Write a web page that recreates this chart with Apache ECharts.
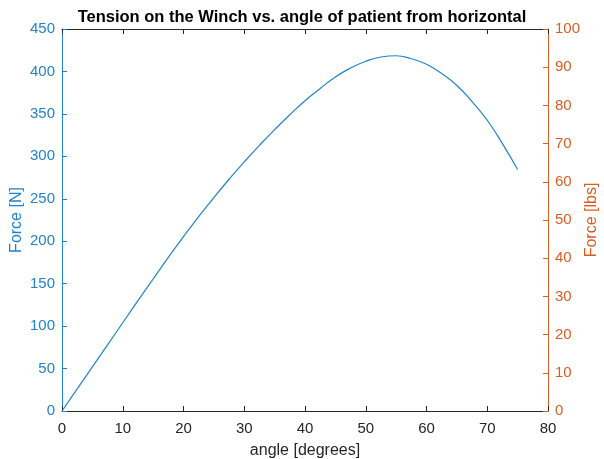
<!DOCTYPE html>
<html>
<head>
<meta charset="utf-8">
<script src="https://cdn.jsdelivr.net/npm/echarts@6/dist/echarts.min.js"></script>
<style>html,body{margin:0;padding:0;background:#fff}#c{width:604px;height:459px}</style>
</head>
<body>
<div id="c"></div>
<script>
var angles = [0, 2.5, 5, 7.5, 10, 12.5, 15, 17.5, 20, 22.5, 25, 27.5, 30, 32.5, 35, 37.5, 40, 42.5, 45, 47.5, 50, 52.5, 55, 57.5, 60, 62.5, 65, 67.5, 70, 72.5, 75];
var forceN = [0, 26, 52, 78, 104, 130, 155.5, 181, 205.5, 229, 251.5, 273, 293.5, 313, 331.5, 349, 365.5, 380, 393.5, 404, 412, 417, 418.5, 415, 408.5, 397.5, 383.5, 364.5, 342.5, 315, 284.5];
var xTicks = [0, 10, 20, 30, 40, 50, 60, 70, 80];
var title = 'Tension on the Winch vs. angle of patient from horizontal';

var blue = '#2283cc';
var orange = '#dc5d23';
var dark = '#262626';
var font = 'Liberation Sans, Arial, Helvetica, sans-serif';

var chart = echarts.init(document.getElementById('c'));
chart.setOption({
  animation: false,
  title: {
    text: title, left: 'center', top: 4,
    textStyle: { fontFamily: font, fontSize: 16.5, fontWeight: 'bold', color: '#000' }
  },
  grid: { left: 62, right: 56, top: 29, bottom: 48, containLabel: false, outerBoundsMode: 'none' },
  xAxis: [{
    type: 'value', min: 0, max: 80, interval: 10,
    name: 'angle [degrees]', nameLocation: 'middle', nameGap: 32, nameMoveOverlap: false,
    nameTextStyle: { fontFamily: font, fontSize: 16, color: dark },
    axisLine: { show: true, onZero: false, lineStyle: { color: dark, width: 1 } },
    axisTick: { show: true, inside: true, length: 5, lineStyle: { color: dark } },
    axisLabel: { fontFamily: font, fontSize: 15, color: dark, margin: 10 },
    splitLine: { show: false }
  }, {
    type: 'value', min: 0, max: 80, interval: 10, position: 'top',
    axisLine: { show: true, onZero: false, lineStyle: { color: dark, width: 1 } },
    axisTick: { show: true, inside: true, length: 5, lineStyle: { color: dark } },
    axisLabel: { show: false },
    splitLine: { show: false }
  }],
  yAxis: [{
    type: 'value', min: 0, max: 450, interval: 50, position: 'left',
    name: 'Force [N]', nameLocation: 'middle', nameGap: 37, nameMoveOverlap: false,
    nameTextStyle: { fontFamily: font, fontSize: 16, color: blue },
    axisLine: { show: true, onZero: false, lineStyle: { color: blue, width: 1 } },
    axisTick: { show: true, inside: true, length: 5, lineStyle: { color: blue } },
    axisLabel: { fontFamily: font, fontSize: 15, color: blue, margin: 7 },
    splitLine: { show: false }
  }, {
    type: 'value', min: 0, max: 100, interval: 10, position: 'right',
    name: 'Force [lbs]', nameLocation: 'middle', nameGap: 36, nameMoveOverlap: false,
    nameTextStyle: { fontFamily: font, fontSize: 16, color: orange },
    axisLine: { show: true, onZero: false, lineStyle: { color: orange, width: 1 } },
    axisTick: { show: true, inside: true, length: 5, lineStyle: { color: orange } },
    axisLabel: { fontFamily: font, fontSize: 15, color: orange, margin: 7 },
    splitLine: { show: false }
  }],
  series: [{
    type: 'line', xAxisIndex: 0, yAxisIndex: 0,
    data: angles.map(function (a, i) { return [a, forceN[i]]; }),
    smooth: true, showSymbol: false,
    lineStyle: { color: blue, width: 1.2 }
  }]
});
</script>
</body>
</html>
